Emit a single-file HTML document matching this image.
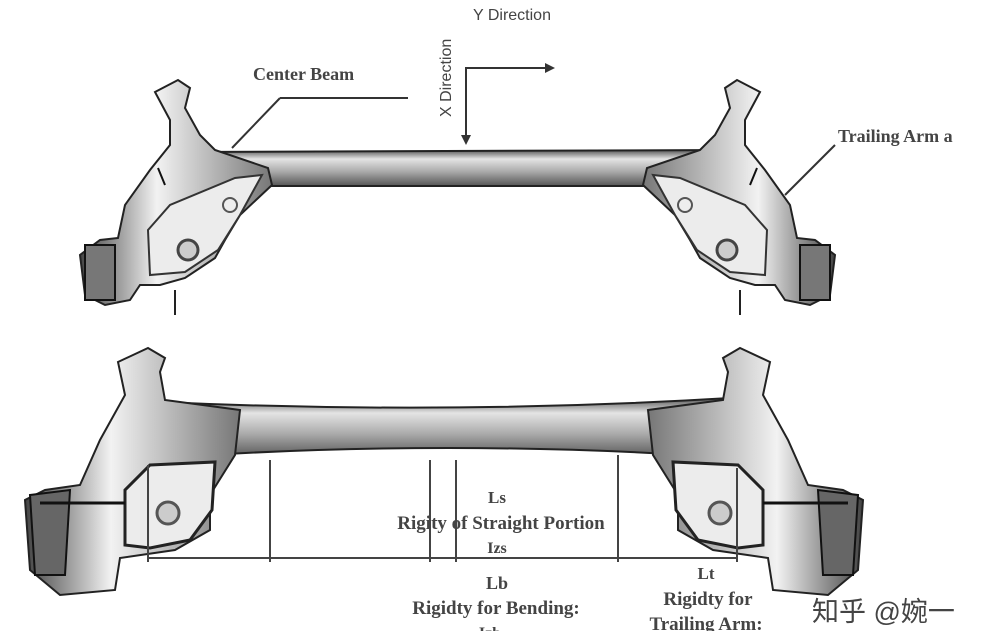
<!DOCTYPE html>
<html><head><meta charset="utf-8"><style>
html,body{margin:0;padding:0;background:#fff;}
svg{display:block}
text{font-family:"Liberation Serif",serif;font-weight:bold;fill:#444}
</style></head><body>
<svg width="990" height="631" viewBox="0 0 990 631" xmlns="http://www.w3.org/2000/svg">
<defs>
<linearGradient id="bm" x1="0" y1="0" x2="0" y2="1">
<stop offset="0" stop-color="#555"/><stop offset="0.25" stop-color="#e4e4e4"/><stop offset="0.6" stop-color="#aaa"/><stop offset="1" stop-color="#555"/></linearGradient>
<linearGradient id="arm" x1="0" y1="0" x2="1" y2="0">
<stop offset="0" stop-color="#444"/><stop offset="0.4" stop-color="#f2f2f2"/><stop offset="1" stop-color="#777"/></linearGradient>
<g id="topArm">
<path d="M155 92 L178 80 L190 88 L185 108 L200 135 L215 150 L268 168 L272 185 L240 215 L225 240 L215 258 L185 278 L160 285 L140 285 L130 300 L105 305 L85 295 L80 255 L100 240 L118 238 L125 205 L150 170 L170 145 L170 120 Z" fill="url(#arm)" stroke="#222" stroke-width="2"/>
<path d="M148 230 L170 205 L235 178 L262 175 L240 215 L218 250 L185 272 L150 275 Z" fill="#ececec" stroke="#333" stroke-width="2"/>
<circle cx="188" cy="250" r="10" fill="#ccc" stroke="#444" stroke-width="3"/>
<circle cx="230" cy="205" r="7" fill="#eee" stroke="#555" stroke-width="2"/>
<rect x="85" y="245" width="30" height="55" fill="#777" stroke="#111" stroke-width="2"/>
<line x1="158" y1="168" x2="165" y2="185" stroke="#111" stroke-width="2"/>
<line x1="175" y1="290" x2="175" y2="315" stroke="#222" stroke-width="2"/>
</g>
<g id="botArm">
<path d="M118 362 L148 348 L165 358 L160 372 L165 400 L240 410 L235 455 L210 495 L210 530 L175 550 L120 558 L115 590 L60 595 L30 570 L25 500 L45 490 L80 485 L100 440 L125 395 Z" fill="url(#arm)" stroke="#222" stroke-width="2"/>
<path d="M150 465 L215 462 L212 510 L190 540 L150 548 L125 545 L125 490 Z" fill="#ececec" stroke="#222" stroke-width="3"/>
<circle cx="168" cy="513" r="11" fill="#ccc" stroke="#555" stroke-width="3"/>
<path d="M30 495 L70 490 L65 575 L35 575 Z" fill="#666" stroke="#111" stroke-width="2"/>
<line x1="40" y1="503" x2="125" y2="503" stroke="#111" stroke-width="3"/>
</g>
</defs>

<path d="M180 152 L730 150 L735 186 L180 186 Z" fill="url(#bm)" stroke="#222" stroke-width="2"/>
<use href="#topArm"/>
<use href="#topArm" transform="translate(915,0) scale(-1,1)"/>

<path d="M160 402 Q450 415 730 398 L735 458 Q450 438 160 458 Z" fill="url(#bm)" stroke="#222" stroke-width="2"/>
<circle cx="200" cy="430" r="5" fill="#333"/>
<circle cx="683" cy="428" r="5" fill="#333"/>
<use href="#botArm"/>
<use href="#botArm" transform="translate(888,0) scale(-1,1)"/>

<g stroke="#333" stroke-width="2" fill="none">
<polyline points="466,143 466,68 548,68"/>
<line x1="280" y1="98" x2="408" y2="98"/>
<line x1="280" y1="98" x2="232" y2="148"/>
<line x1="835" y1="145" x2="785" y2="195"/>
</g>
<path d="M461 135 L466 145 L471 135 Z" fill="#333"/>
<path d="M545 63 L555 68 L545 73 Z" fill="#333"/>
<text x="253" y="80" font-size="18">Center Beam</text>
<text x="838" y="142" font-size="18">Trailing Arm a</text>
<text x="473" y="20" font-size="16" style="font-family:'Liberation Sans',sans-serif;font-weight:normal" fill="#333">Y Direction</text>
<text transform="translate(451,117) rotate(-90)" font-size="16" style="font-family:'Liberation Sans',sans-serif;font-weight:normal" fill="#333">X Direction</text>

<g stroke="#444" stroke-width="2">
<line x1="148" y1="465" x2="148" y2="562"/>
<line x1="270" y1="460" x2="270" y2="562"/>
<line x1="430" y1="460" x2="430" y2="562"/>
<line x1="456" y1="460" x2="456" y2="562"/>
<line x1="618" y1="455" x2="618" y2="562"/>
<line x1="737" y1="468" x2="737" y2="562"/>
<line x1="148" y1="558" x2="737" y2="558"/>
</g>
<text x="497" y="503" font-size="17" text-anchor="middle">Ls</text>
<text x="501" y="529" font-size="19" text-anchor="middle">Rigity of Straight Portion</text>
<text x="497" y="553" font-size="16" text-anchor="middle">Izs</text>
<text x="497" y="589" font-size="18" text-anchor="middle">Lb</text>
<text x="496" y="614" font-size="19" text-anchor="middle">Rigidty for Bending:</text>
<text x="706" y="579" font-size="17" text-anchor="middle">Lt</text>
<text x="708" y="605" font-size="19" text-anchor="middle">Rigidty for</text>
<text x="706" y="630" font-size="19" text-anchor="middle">Trailing Arm:</text>
<text x="490" y="638" font-size="16" text-anchor="middle">Izb</text>
<text x="812" y="621" font-size="27" style="font-family:'Liberation Sans','Noto Sans CJK SC',sans-serif;font-weight:normal" fill="#999">知乎 @婉一</text>
</svg>
</body></html>
